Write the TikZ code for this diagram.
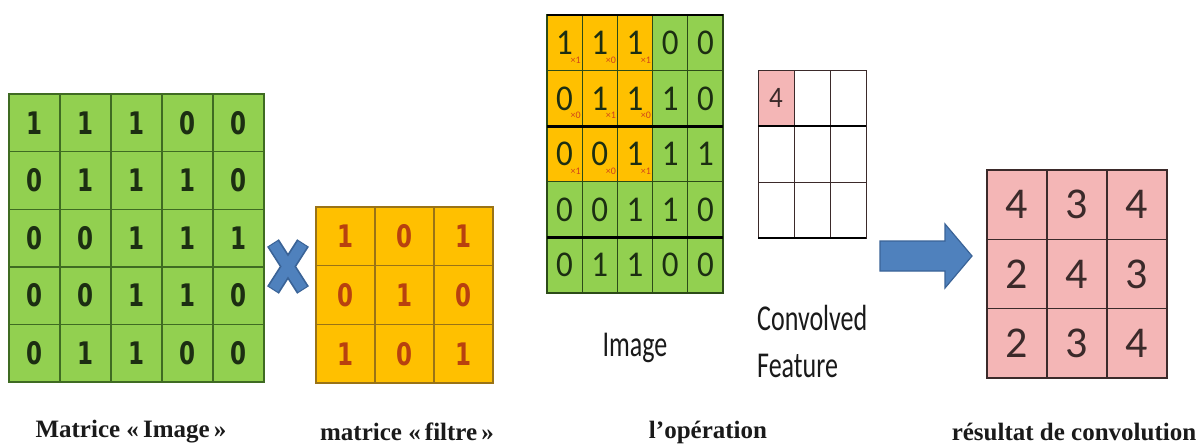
\documentclass[tikz,border=0pt]{standalone}
\usepackage{fontspec}
\setmainfont{Liberation Serif}
\newfontfamily\calib{Carlito}
\newfontfamily\verd{DejaVu Sans}

\definecolor{imggreen}{HTML}{92D050}
\definecolor{gridgreen}{HTML}{3F6B22}
\definecolor{digitdark}{HTML}{1C2E12}
\definecolor{filtyellow}{HTML}{FFC000}
\definecolor{filtline}{HTML}{9A7316}
\definecolor{filtdigit}{HTML}{B8410F}
\definecolor{subred}{HTML}{D0451B}
\definecolor{featpink}{HTML}{F4B6B6}
\definecolor{featline}{HTML}{3B2A2A}
\definecolor{arrowblue}{HTML}{4F81BD}
\definecolor{arrowedge}{HTML}{3A6397}
\definecolor{labelink}{HTML}{1A1A1A}

% vertical stretch for condensed-looking text
\newcommand{\vstr}[2]{\scalebox{1}[#1]{#2}}

\tikzset{
  cellbase/.style={rectangle, inner sep=0pt, outer sep=0pt},
  lcell/.style={cellbase, minimum width=51pt, minimum height=57.6pt,
    fill=imggreen, draw=gridgreen, line width=1.4pt, text=digitdark,
    font=\verd\bfseries\fontsize{23}{23}\selectfont},
  fcell/.style={cellbase, minimum width=59pt, minimum height=58.7pt,
    fill=filtyellow, draw=filtline, line width=1.4pt, text=filtdigit,
    font=\verd\bfseries\fontsize{23}{23}\selectfont},
  mcell/.style={cellbase, minimum width=35.2pt, minimum height=55.6pt,
    fill=imggreen, draw=gridgreen!70!black, line width=1.2pt, text=digitdark,
    font=\calib\fontsize{33}{33}\selectfont},
  wcell/.style={mcell, fill=filtyellow},
  subx/.style={inner sep=0pt, text=subred, font=\calib\fontsize{10}{10}\selectfont},
  ccell/.style={cellbase, minimum width=36pt, minimum height=56pt,
    fill=white, draw=featline, line width=1pt, text=featline,
    font=\calib\fontsize{27}{27}\selectfont},
  rcell/.style={cellbase, minimum width=60pt, minimum height=69.3pt,
    fill=featpink, draw=featline, line width=1.5pt, text=featline,
    font=\calib\fontsize{44}{44}\selectfont},
  thickrule/.style={line width=2.6pt, black},
  caption/.style={inner sep=0pt, text=labelink,
    font=\bfseries\fontsize{25}{25}\selectfont},
  sanslabel/.style={inner sep=0pt, text=labelink,
    font=\calib\fontsize{26}{26}\selectfont},
}

\begin{document}
\begin{tikzpicture}[x=1pt, y=-1pt]
\useasboundingbox[fill=white] (0,0) rectangle (1201,447);

% input image matrix (5x5)
\foreach \row [count=\r from 0] in {{1,1,1,0,0},{0,1,1,1,0},{0,0,1,1,1},{0,0,1,1,0},{0,1,1,0,0}} {
  \foreach \v [count=\c from 0] in \row {
    \node[lcell] (L-\r-\c) at ({9+51*\c+25.5},{94+57.6*\r+28.8}) {\vstr{1.35}{\v}};
  }
}

% multiplication sign
\draw[arrowedge, line width=14pt] (273,243) -- (303,290) (303,243) -- (273,290);
\draw[arrowblue, line width=10.5pt] (273.6,244) -- (302.4,289) (302.4,244) -- (273.6,289);

% filter matrix (3x3)
\foreach \row [count=\r from 0] in {{1,0,1},{0,1,0},{1,0,1}} {
  \foreach \v [count=\c from 0] in \row {
    \node[fcell] (F-\r-\c) at ({316+59*\c+29.5},{207+58.7*\r+29.35}) {\vstr{1.35}{\v}};
  }
}

% image with the filter window over its top-left corner
\foreach \row [count=\r from 0] in {{1,1,1,0,0},{0,1,1,1,0},{0,0,1,1,1},{0,0,1,1,0},{0,1,1,0,0}} {
  \foreach \v [count=\c from 0] in \row {
    \pgfmathtruncatemacro\inwin{and(\r<3,\c<3)}
    \ifnum\inwin=1 \def\sty{wcell}\else\def\sty{mcell}\fi
    \node[\sty] (M-\r-\c) at ({547+35.2*\c+17.6},{15+55.6*\r+27.8}) {\vstr{1.1}{\v}};
  }
}
\foreach \r in {0,1,2} {
  \foreach \c in {0,1,2} {
    \pgfmathtruncatemacro\w{mod(\r+\c+1,2)}
    \node[subx, xshift=11pt, yshift=-17pt] (S-\r-\c) at (M-\r-\c.center) {×\w};
  }
}
\draw[thickrule] (M-0-0.north west) -- (M-0-4.north east);
\draw[thickrule] (M-1-0.south west) -- (M-1-4.south east);
\draw[thickrule] (M-3-0.south west) -- (M-3-4.south east);

% convolved feature, first value only
\foreach \r in {0,1,2} {
  \foreach \c in {0,1,2} {
    \node[ccell] (C-\r-\c) at ({758+36*\c+18},{70+56*\r+28}) {};
  }
}
\node[ccell, fill=featpink] (C-0-0) at (776,98) {\vstr{1.1}{4}};
\draw[thickrule] (C-0-0.south west) -- (C-0-2.south east);
\draw[thickrule] (C-2-0.south west) -- (C-2-2.south east);

% block arrow
\draw[fill=arrowblue, draw=arrowedge, line width=1.2pt]
  (880,241) -- (945,241) -- (945,224) -- (972,256) -- (945,288) -- (945,271) -- (880,271) -- cycle;

% resulting feature map
\foreach \row [count=\r from 0] in {{4,3,4},{2,4,3},{2,3,4}} {
  \foreach \v [count=\c from 0] in \row {
    \node[rcell] (R-\r-\c) at ({987+60*\c+30},{170+69.3*\r+34.65}) {\v};
  }
}

% labels
\node[sanslabel] (lab-image) at (635,348) {\vstr{1.4}{Image}};
\node[sanslabel, anchor=west] (lab-conv) at (757,318) {\vstr{1.4}{Convolved}};
\node[sanslabel, anchor=west] (lab-feat) at (757,366) {\vstr{1.4}{Feature}};

\node[caption] (cap-img) at (131,432) {Matrice «\,Image\,»};
\node[caption] (cap-fil) at (407,432) {matrice «\,filtre\,»};
\node[caption] (cap-op) at (708,432) {l’opération};
\node[caption] (cap-res) at (1074,432) {résultat de convolution};
\end{tikzpicture}
\end{document}
